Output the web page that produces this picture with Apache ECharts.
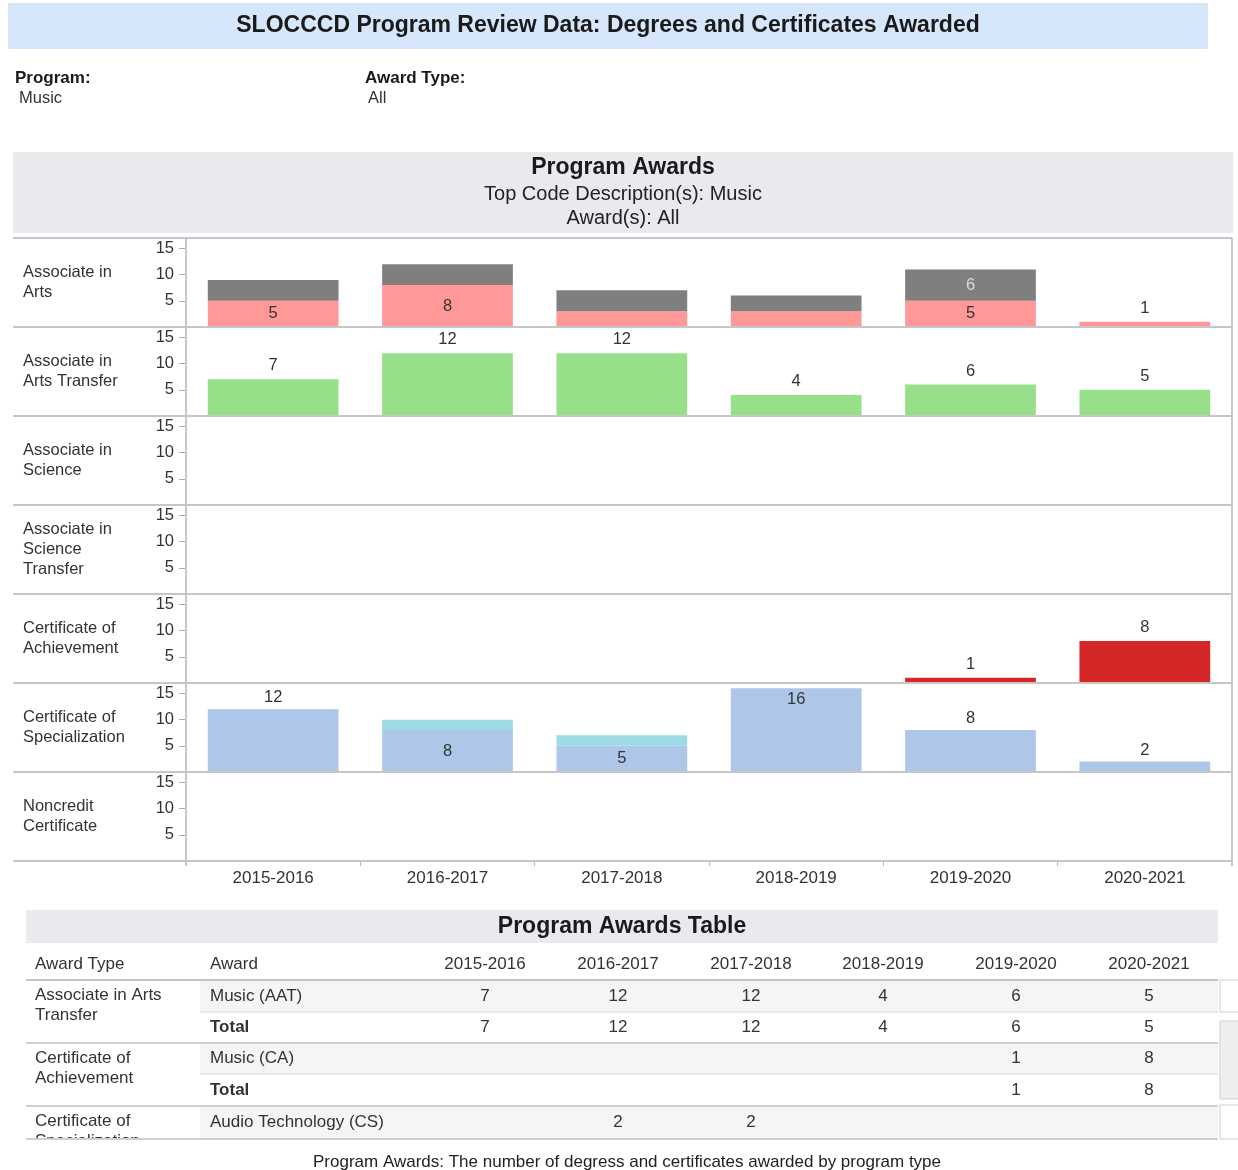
<!DOCTYPE html>
<html>
<head>
<meta charset="utf-8">
<title>SLOCCCD Program Review Data</title>
<script src="https://cdn.jsdelivr.net/npm/echarts@6/dist/echarts.min.js"></script>
<style>
  html, body { margin: 0; padding: 0; background: #fff; }
  #chart { width: 1238px; height: 1170px; }
</style>
</head>
<body>
<div id="chart"></div>
<script>
// 学年 / categories
var years = ['2015-2016', '2016-2017', '2017-2018', '2018-2019', '2019-2020', '2020-2021'];
var awardTypes = ['Associate in\nArts', 'Associate in\nArts Transfer', 'Associate in\nScience',
  'Associate in\nScience\nTransfer', 'Certificate of\nAchievement', 'Certificate of\nSpecialization',
  'Noncredit\nCertificate'];
var yTicks = [5, 10, 15];

// Associate in Arts (two awards, stacked)
var aaLower = [5, 8, 3, 3, 5, 1];
var aaUpper = [4, 4, 4, 3, 6, null];
// Associate in Arts Transfer - Music (AAT)
var aatMusic = [7, 12, 12, 4, 6, 5];
// Certificate of Achievement - Music (CA)
var caMusic = [null, null, null, null, 1, 8];
// Certificate of Specialization (stacked)
var csMain = [12, 8, 5, 16, 8, 2];
var csAudio = [null, 2, 2, null, null, null];

// label placement per bar (style only)
var aaLowerLabel = ['inside', 'inside', null, null, 'inside', 'top'];
var aaUpperLabel = [null, null, null, null, 'inside', null];
var csMainLabel = ['top', 'inside', 'inside', 'insideTop', 'top', 'top'];

var FONT = '"Liberation Sans", Arial, Helvetica, sans-serif';
var gridTop = 238, rowH = 89, plotLeft = 186, plotRight = 1232;
var lineColor = '#c6c6c6';

function barItems(vals, pos) {
  return vals.map(function (v, i) {
    var p = pos ? pos[i] : 'top';
    return { value: v, label: p ? { show: true, position: p } : { show: false } };
  });
}
function sumOf(list) {
  return list[0].map(function (_, i) {
    var s = null;
    list.forEach(function (arr) { if (arr[i] != null) { s = (s || 0) + arr[i]; } });
    return s;
  });
}
function txt(x, y, text, size, opts) {
  opts = opts || {};
  return {
    type: 'text', x: x, y: y, z: opts.z || 10,
    style: {
      text: text,
      font: (opts.bold ? 'bold ' : '') + size + 'px ' + FONT,
      fill: opts.color || '#333',
      align: opts.align || 'left', textAlign: opts.align || 'left',
      verticalAlign: opts.va || 'middle', textVerticalAlign: opts.va || 'middle',
      lineHeight: opts.lh || size * 1.2
    }
  };
}
function hline(x1, x2, y, color, w, z) {
  return { type: 'line', z: z || 5, shape: { x1: x1, y1: y, x2: x2, y2: y }, style: { stroke: color, lineWidth: w || 1 } };
}
function vline(x, y1, y2, color, w) {
  return { type: 'line', z: 5, shape: { x1: x, y1: y1, x2: x, y2: y2 }, style: { stroke: color, lineWidth: w || 1 } };
}
function box(x, y, w, h, fill, stroke, z) {
  return { type: 'rect', z: z || 1, shape: { x: x, y: y, width: w, height: h }, style: { fill: fill, stroke: stroke || null, lineWidth: 1 } };
}

var grids = [], xAxes = [], yAxes = [];
awardTypes.forEach(function (name, i) {
  grids.push({ left: plotLeft, top: gridTop + rowH * i, width: plotRight - plotLeft, height: rowH });
  xAxes.push({
    type: 'category', gridIndex: i, data: years, show: i === awardTypes.length - 1,
    axisLine: { show: false },
    axisTick: { show: true, length: 5, lineStyle: { color: '#bbb' } },
    axisLabel: { fontSize: 17, color: '#333', fontFamily: FONT, margin: 9 }
  });
  yAxes.push({
    type: 'value', gridIndex: i, min: 0, max: 17,
    axisLine: { show: false }, splitLine: { show: false },
    axisTick: { show: true, length: 7, customValues: yTicks, lineStyle: { color: '#aaa' } },
    axisLabel: { customValues: yTicks, fontSize: 16.5, color: '#333', fontFamily: FONT, margin: 12 }
  });
});

var labelBase = { show: true, fontSize: 16.5, color: '#333', fontFamily: FONT, distance: 5 };
var series = [
  { type: 'bar', xAxisIndex: 0, yAxisIndex: 0, stack: 'aa', barCategoryGap: '25%',
    itemStyle: { color: '#ff9896' }, label: labelBase, data: barItems(aaLower, aaLowerLabel) },
  { type: 'bar', xAxisIndex: 0, yAxisIndex: 0, stack: 'aa', barCategoryGap: '25%',
    itemStyle: { color: '#7f7f7f' }, label: Object.assign({}, labelBase, { color: '#dadada' }),
    data: barItems(aaUpper, aaUpperLabel) },
  { type: 'bar', xAxisIndex: 1, yAxisIndex: 1, barCategoryGap: '25%',
    itemStyle: { color: '#98df8a' }, label: labelBase, data: barItems(aatMusic) },
  { type: 'bar', xAxisIndex: 4, yAxisIndex: 4, barCategoryGap: '25%',
    itemStyle: { color: '#d62728' }, label: labelBase, data: barItems(caMusic) },
  { type: 'bar', xAxisIndex: 5, yAxisIndex: 5, stack: 'cs', barCategoryGap: '25%',
    itemStyle: { color: '#aec7e8' }, label: Object.assign({}, labelBase, { distance: 3 }),
    data: barItems(csMain, csMainLabel) },
  { type: 'bar', xAxisIndex: 5, yAxisIndex: 5, stack: 'cs', barCategoryGap: '25%',
    itemStyle: { color: '#9edae5' }, label: { show: false }, data: barItems(csAudio, csAudio.map(function () { return null; })) }
];

// ---- decorations ----
var g = [];
// page title
g.push(box(8, 3, 1200, 46, '#d6e6fb'));
g.push(txt(608, 26, 'SLOCCCD Program Review Data: Degrees and Certificates Awarded', 23, { bold: true, align: 'center', color: '#1a1a1a' }));
g.push(txt(15, 78, 'Program:', 17, { bold: true, color: '#1a1a1a' }));
g.push(txt(19, 98, 'Music', 16.5));
g.push(txt(365, 78, 'Award Type:', 17, { bold: true, color: '#1a1a1a' }));
g.push(txt(368, 98, 'All', 16.5));
// chart header
g.push(box(13, 152, 1220, 81, '#e9eaee'));
g.push(txt(623, 168, 'Program Awards', 23, { bold: true, align: 'center', color: '#1a1a1a' }));
g.push(txt(623, 194, 'Top Code Description(s): Music', 20, { align: 'center', color: '#222' }));
g.push(txt(623, 218, 'Award(s): All', 20, { align: 'center', color: '#222' }));
// row borders + row labels
for (var k = 0; k <= awardTypes.length; k++) {
  g.push(hline(13, plotRight, gridTop + rowH * k, lineColor, 2));
}
g.push(vline(plotLeft, gridTop, gridTop + rowH * awardTypes.length + 5, lineColor, 2));
g.push(vline(plotRight, gridTop, gridTop + rowH * awardTypes.length + 5, lineColor, 2));
awardTypes.forEach(function (name, i) {
  g.push(txt(23, gridTop + rowH * i + rowH / 2, name, 16.5, { lh: 20 }));
});

// ---- table ----
var colX = [485, 618, 751, 883, 1016, 1149];
g.push(box(26, 910, 1192, 33, '#e9eaee'));
g.push(txt(622, 927, 'Program Awards Table', 23, { bold: true, align: 'center', color: '#1a1a1a' }));
g.push(txt(35, 964, 'Award Type', 17));
g.push(txt(210, 964, 'Award', 17));
years.forEach(function (y, j) { g.push(txt(colX[j], 964, y, 17, { align: 'center' })); });

var tableRows = [
  { type: 'Associate in Arts\nTransfer', award: 'Music (AAT)', values: aatMusic },
  { award: 'Total', bold: true, values: sumOf([aatMusic]) },
  { type: 'Certificate of\nAchievement', award: 'Music (CA)', values: caMusic },
  { award: 'Total', bold: true, values: sumOf([caMusic]) },
  { type: 'Certificate of\nSpecialization', award: 'Audio Technology (CS)', values: csAudio }
];
var rowEdges = [980, 1012, 1043, 1074, 1106, 1139];
tableRows.forEach(function (r, i) {
  var top = rowEdges[i], bot = rowEdges[i + 1], mid = (top + bot) / 2;
  if (i % 2 === 0) g.push(box(200, top, 1018, bot - top, '#f5f5f5'));
  if (r.type) g.push(txt(35, top + 5, r.type, 17, { va: 'top', lh: 20 }));
  g.push(txt(210, mid, r.award, 17, { bold: r.bold }));
  r.values.forEach(function (v, j) {
    if (v != null) g.push(txt(colX[j], mid, String(v), 17, { align: 'center' }));
  });
});
g.push(hline(26, 1218, 980, '#c4c4c4', 2));
g.push(hline(200, 1218, 1012, '#e2e2e2', 1.5));
g.push(hline(26, 1218, 1043, '#cfcfcf', 2));
g.push(hline(200, 1218, 1074, '#e2e2e2', 1.5));
g.push(hline(26, 1218, 1106, '#cfcfcf', 2));
// table cut off at the bottom
g.push(box(26, 1140, 200, 14, '#fff', null, 50));
g.push(hline(26, 1218, 1139, '#cfcfcf', 2, 51));
// side bits
g.push(box(1220, 980, 22, 32, '#fff', '#cfcfcf'));
g.push(box(1220, 1021, 22, 78, '#eeeeee', '#cfcfcf'));
g.push(box(1220, 1105, 22, 34, '#fff', '#cfcfcf'));
// footer
g.push(txt(627, 1162, 'Program Awards: The number of degress and certificates awarded by program type', 17, { align: 'center', color: '#222' }));

var chart = echarts.init(document.getElementById('chart'));
chart.setOption({
  animation: false,
  backgroundColor: '#fff',
  grid: grids,
  xAxis: xAxes,
  yAxis: yAxes,
  series: series,
  graphic: { elements: g }
});
</script>
</body>
</html>
